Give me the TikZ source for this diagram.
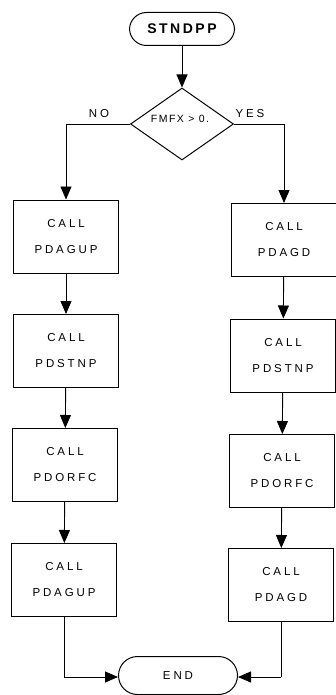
\documentclass[tikz,border=0pt]{standalone}
\usepackage{fontspec}
\setmainfont{Liberation Sans}
\newfontfamily\spaced[LetterSpace=25]{Liberation Sans}
\newfontfamily\spacedtight[LetterSpace=14]{Liberation Sans}
\newfontfamily\spacedbold[LetterSpace=18]{Liberation Sans Bold}
\usetikzlibrary{arrows.meta,shapes.geometric}
\tikzset{
  x=1pt, y=-1pt,
  every node/.style={font=\spaced\fontsize{11.5}{13}\selectfont},
  term/.style={draw, line width=1pt, rectangle, rounded corners=17pt, inner sep=0pt},
  callbox/.style={draw, line width=1pt, rectangle, minimum width=105pt, minimum height=73pt,
    align=center, inner sep=0pt},
  decision/.style={draw, line width=1pt, diamond, minimum width=103pt, minimum height=72pt, inner sep=0pt},
  flow/.style={line width=0.9pt, -{Triangle[width=11pt,length=13pt]}},
  plain/.style={line width=0.9pt},
}
\begin{document}
\begin{tikzpicture}
\useasboundingbox (0,0) rectangle (335,695);

% start / end terminals
\node[term, minimum width=105pt, minimum height=33pt,
      font=\spacedbold\fontsize{14}{16}\selectfont] (start) at (182,29) {STNDPP};
\node[term, minimum width=119pt, minimum height=38pt, rounded corners=19pt] (stop) at (178,675.5) {END};

% decision
\node[decision] (dec) at (182,124) {};
\node[font=\spacedtight\fontsize{10.5}{12}\selectfont] (dectext) at (180,119) {FMFX > 0.};

% left branch (NO)
\node[callbox] (l1) at (66,236.5) {CALL\\[13pt]PDAGUP};
\node[callbox] (l2) at (66,351) {CALL\\[13pt]PDSTNP};
\node[callbox] (l3) at (65,465) {CALL\\[13pt]PDORFC};
\node[callbox] (l4) at (64,580) {CALL\\[13pt]PDAGUP};

% right branch (YES)
\node[callbox] (r1) at (284,240) {CALL\\[13pt]PDAGD};
\node[callbox] (r2) at (283,355.5) {CALL\\[13pt]PDSTNP};
\node[callbox] (r3) at (282,471) {CALL\\[13pt]PDORFC};
\node[callbox] (r4) at (281,585) {CALL\\[13pt]PDAGD};

% branch labels
\node (no) at (99,114) {NO};
\node (yes) at (250,114) {YES};

% connectors
\draw[flow] (start) -- (dec.north);
\draw[flow] (dec.west) -| (l1.north);
\draw[flow] (dec.east) -| (r1.north);
\draw[flow] (l1) -- (l2);
\draw[flow] (l2) -- (l3);
\draw[flow] (l3) -- (l4);
\draw[flow] (r1) -- (r2);
\draw[flow] (r2) -- (r3);
\draw[flow] (r3) -- (r4);
\coordinate (lj) at (l4.south |- 0,677);
\coordinate (rj) at (r4.south |- 0,677);
\draw[plain] (l4.south) -- (lj);
\draw[flow] (lj) -- (lj -| stop.west);
\draw[plain] (r4.south) -- (rj);
\draw[flow] (rj) -- (rj -| stop.east);
\end{tikzpicture}
\end{document}
